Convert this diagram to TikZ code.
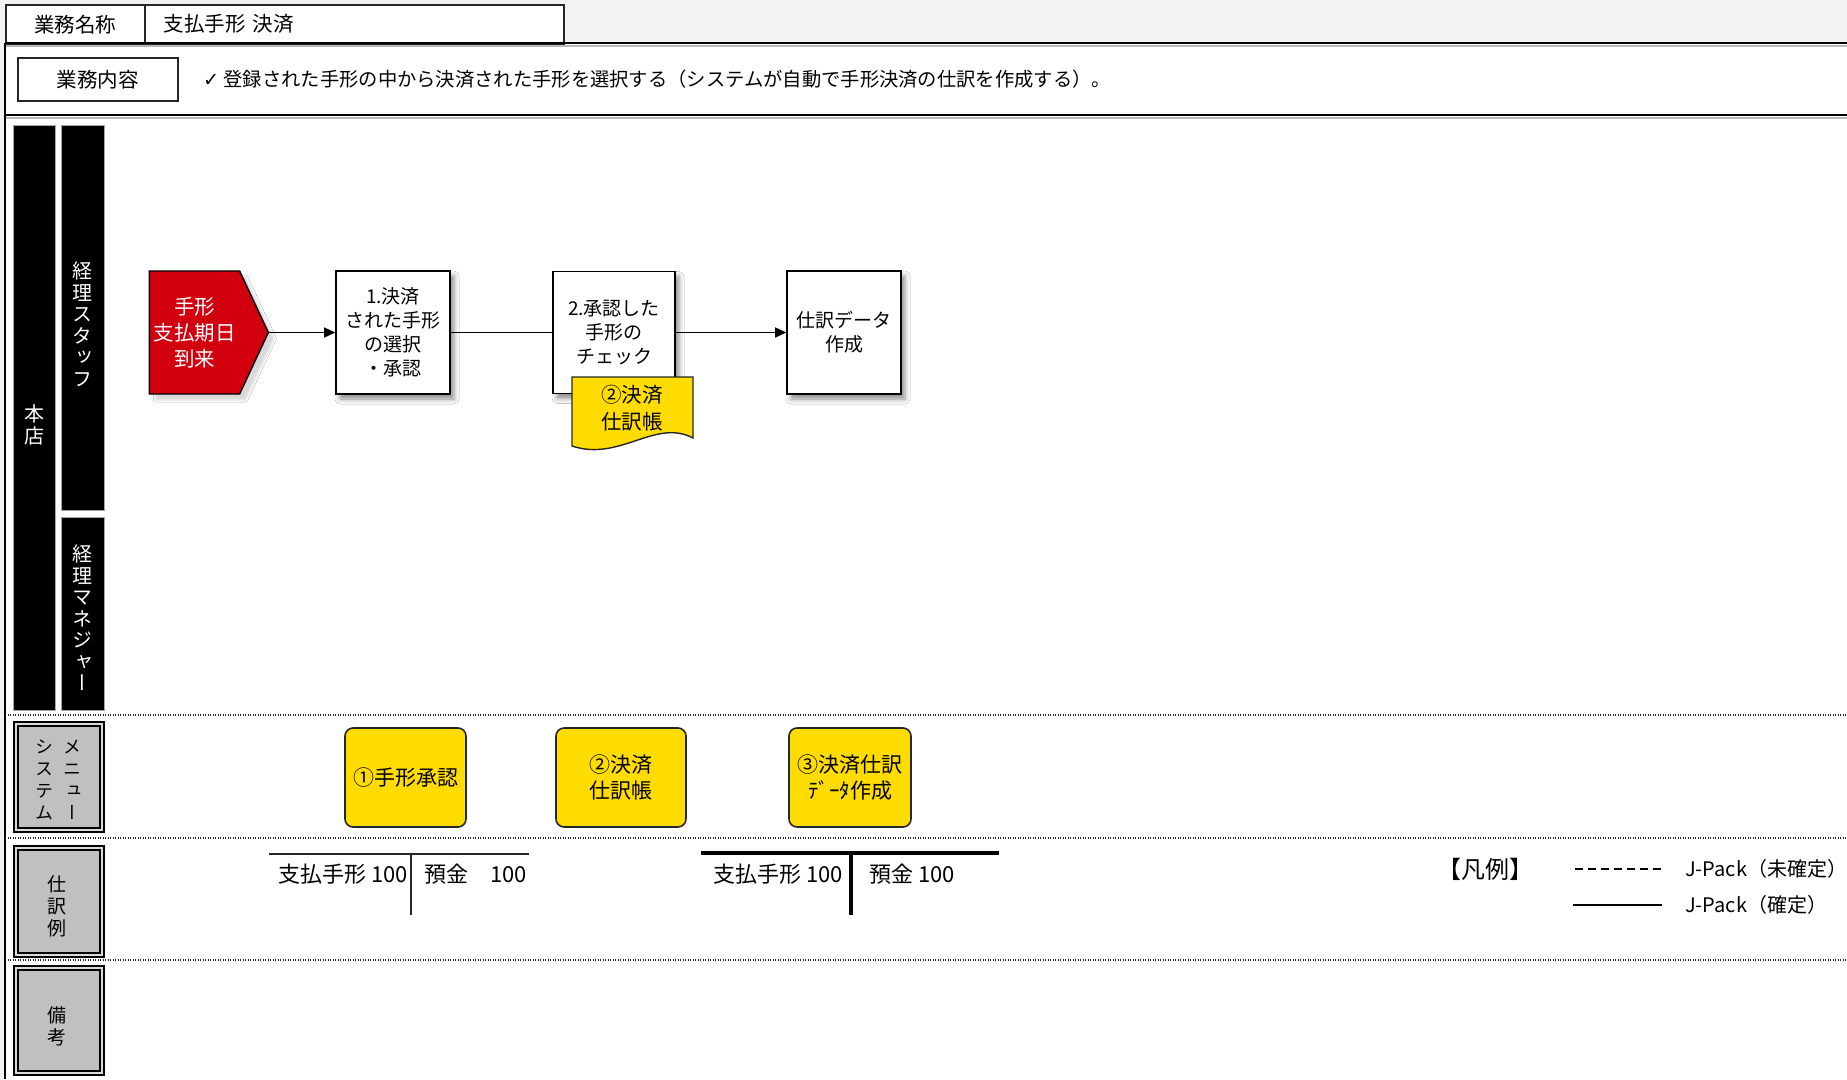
\documentclass[tikz,border=0pt]{standalone}
\usepackage{fontspec}
\setmainfont{Noto Sans CJK JP}
\newfontfamily\vjp[RawFeature=+vert]{Noto Sans CJK JP}
\newfontfamily\checkfont{DejaVu Sans}
\usepackage{tikz}
\usetikzlibrary{arrows.meta,fit,shadows.blur,shapes.symbols}
\definecolor{sheetgray}{HTML}{F2F2F2}
\definecolor{alertred}{HTML}{D2000F}
\definecolor{menuyellow}{HTML}{FFDC00}
\definecolor{labelgray}{HTML}{C0C0C0}
\definecolor{darkink}{HTML}{262626}
\tikzset{
  headbox/.style={rectangle,draw=darkink,line width=1.5pt,fill=white,minimum height=39pt,inner sep=0pt,
    font=\fontsize{20.5}{24}\selectfont},
  lanebar/.style={rectangle,fill=black,draw=gray!70,line width=0.8pt,inner sep=0pt},
  lanetext/.style={inner sep=0pt,text=white,align=center,font=\vjp\fontsize{20}{21.5}\selectfont},
  labelbox/.style={rectangle,fill=labelgray,draw=black,line width=2pt,double=gray!30,double distance=2pt,
    inner sep=0pt},
  vlabel/.style={inner sep=0pt,align=center,font=\vjp\fontsize{19}{22}\selectfont},
  flowbox/.style={rectangle,draw=black,line width=1.6pt,fill=white,inner sep=0pt,align=center,
    font=\fontsize{19}{24}\selectfont,
    blur shadow={shadow xshift=4pt,shadow yshift=-5pt,shadow blur radius=5pt,shadow opacity=45}},
  startsig/.style={signal,signal to=east,signal pointer angle=130,draw=black,line width=1.4pt,fill=alertred,
    text=white,inner sep=0pt,align=center,font=\fontsize{20.5}{26}\selectfont,
    blur shadow={shadow xshift=6pt,shadow yshift=-6pt,shadow blur radius=2pt,shadow opacity=15}},
  sysbox/.style={rectangle,rounded corners=8pt,draw=darkink,line width=1.6pt,fill=menuyellow,
    minimum height=99pt,inner sep=0pt,align=center,font=\fontsize{21}{26}\selectfont},
  doctext/.style={inner sep=0pt,align=center,font=\fontsize{20.5}{27}\selectfont},
  tacct/.style={inner sep=0pt,font=\fontsize{22}{26}\selectfont},
  legendtext/.style={inner sep=0pt,anchor=west,font=\fontsize{20}{24}\selectfont},
  flowline/.style={draw=black,line width=1.4pt},
  flowarrow/.style={flowline,-{Triangle[length=11pt,width=10pt]}},
  sepline/.style={draw=darkink,line width=1.2pt,dash pattern=on 1.2pt off 1.3pt},
  tthin/.style={draw=darkink,line width=1.8pt},
  tthick/.style={draw=black,line width=4.5pt}
}

\begin{document}
\begin{tikzpicture}[x=1pt,y=-1pt]
\useasboundingbox (0,0) rectangle (1847,1079);
\fill[sheetgray] (0,0) rectangle (1847,1079);
\fill[white] (5,43) rectangle (1847,1079);
% header rows
\node[headbox,minimum width=139pt,anchor=north west] (namekey) at (5,4) {業務名称};
\node[headbox,anchor=north west,text width=381pt,inner xsep=19pt,align=left] (nameval) at (144,4) {支払手形 決済};
\draw[gray!55,line width=1.5pt] (5,46) -- (1847,46);
\draw[line width=2.5pt] (5,43) -- (1847,43);
\node[headbox,minimum width=160pt,minimum height=43pt,anchor=north west] (workkey) at (17,57) {業務内容};
\node[anchor=west,inner sep=0pt,font=\fontsize{19.3}{23}\selectfont] (workval) at (203,79)
  {{\checkfont ✓} 登録された手形の中から決済された手形を選択する（システムが自動で手形決済の仕訳を作成する）。};
\draw[gray!55,line width=1.5pt] (5,118) -- (1847,118);
\draw[line width=2pt] (5,115) -- (1847,115);
\draw[line width=2pt] (5,43) -- (5,1079);
% lanes
\node[lanebar,fit={(13,125) (55,710)}] (honten) {};
\node[lanebar,fit={(61,125) (104,510)}] (staff) {};
\node[lanebar,fit={(61,517) (104,710)}] (manager) {};
\node[lanetext] (hontentext) at (34,425) {本\\店};
\node[lanetext] (stafftext) at (82.5,324) {経\\理\\ス\\タ\\ッ\\フ};
\node[lanetext] (managertext) at (82.5,618) {経\\理\\マ\\ネ\\ジ\\ャ\\ー};
\draw[sepline] (5,715) -- (1847,715);
\draw[sepline] (5,838) -- (1847,838);
\draw[sepline] (5,960) -- (1847,960);
\node[labelbox,fit={(16,724) (102,830)}] (sysmenu) {};
\node[vlabel,font=\vjp\fontsize{18}{22}\selectfont] (systext) at (44,780) {シ\\ス\\テ\\ム};
\node[vlabel,font=\vjp\fontsize{18}{22}\selectfont] (menutext) at (72,780) {メ\\ニ\\ュ\\ー};
\node[labelbox,fit={(16,848) (102,955)}] (entries) {};
\node[vlabel] (entriestext) at (57,906) {仕\\訳\\例};
\node[labelbox,fit={(16,968) (102,1073)}] (remarks) {};
\node[vlabel] (remarkstext) at (57,1026) {備\\考};
% flow
\node[startsig,minimum width=119pt,minimum height=123pt] (due) at (194.5,332.5) {手形\\支払期日\\到来};
\node[flowbox,minimum width=114pt,minimum height=123pt] (select) at (393,332.5) {1.決済\\された手形\\の選択\\・承認};
\node[flowbox,minimum width=122pt,minimum height=122pt] (check) at (614,332.5) {2.承認した\\手形の\\チェック};
\filldraw[fill=menuyellow,draw=darkink,line width=1.4pt]
  (572,377) -- (693,377) -- (693,438) .. controls (655,418) and (620,462) .. (572,446) -- cycle;
\node[doctext] (ledger) at (632,408) {②決済\\仕訳帳};
\node[flowbox,minimum width=114pt,minimum height=123pt] (journal) at (844,332.5) {仕訳データ\\作成};
\draw[flowarrow] (due.east) -- (select.west);
\draw[flowline] (select) -- (check);
\draw[flowarrow] (check) -- (journal);
% system menus
\node[sysbox,minimum width=121pt] (approve) at (405.5,777.5) {①手形承認};
\node[sysbox,minimum width=130pt] (ledgermenu) at (621,777.5) {②決済\\仕訳帳};
\node[sysbox,minimum width=122pt] (datamenu) at (850,777.5) {③決済仕訳\\ﾃﾞｰﾀ作成};
% journal entries
\draw[tthin] (269,854) -- (529,854);
\draw[tthin] (411,854) -- (411,915);
\node[tacct,anchor=east] (debit1) at (408,874) {支払手形 100};
\node[tacct,anchor=west] (credit1) at (424,874) {預金\hspace{22pt}100};
\draw[tthick] (701,853) -- (999,853);
\draw[tthick] (851,853) -- (851,915);
\node[tacct,anchor=east] (debit2) at (843,874) {支払手形 100};
\node[tacct,anchor=west] (credit2) at (869,874) {預金 100};
% legend
\node[inner sep=0pt,font=\fontsize{24}{28}\selectfont] (legendhead) at (1485,869) {【凡例】};
\node[legendtext] (legendtmp) at (1685,869) {J-Pack（未確定）};
\node[legendtext] (legendfix) at (1685,905) {J-Pack（確定）};
\draw[flowline,dash pattern=on 8pt off 5pt] ([xshift=-24pt]legendtmp.west) -- ++(-91,0);
\draw[flowline] ([xshift=-23pt]legendfix.west) -- ++(-89,0);
\end{tikzpicture}
\end{document}
